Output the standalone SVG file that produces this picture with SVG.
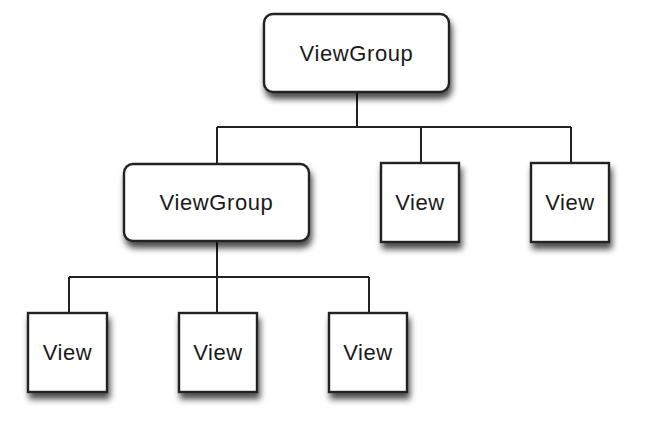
<svg xmlns="http://www.w3.org/2000/svg" width="668" height="428" viewBox="0 0 668 428">
  <defs>
    <filter id="shadow" x="-20%" y="-20%" width="150%" height="160%">
      <feDropShadow dx="2" dy="6" stdDeviation="3.2" flood-color="#000" flood-opacity="0.7"/>
    </filter>
    <style>
      .box { fill: #ffffff; stroke: #222222; stroke-width: 2.4; filter: url(#shadow); }
      .label { font-family: "Liberation Sans", Arial, sans-serif; font-size: 22px; letter-spacing: 0.6px; fill: #1a1a1a; text-anchor: middle; }
      .wire { fill: none; stroke: #222222; stroke-width: 2; }
    </style>
  </defs>
  <rect width="668" height="428" fill="#ffffff"/>

  <!-- tree connectors -->
  <g id="connectors">
    <path class="wire" d="M357 92 V127 M217 127 H571 M217 127 V164 M421 127 V163 M571 127 V163"/>
    <path class="wire" d="M217 241 V277 M69 277 H369 M69 277 V313 M217 277 V313 M369 277 V313"/>
  </g>

  <g id="root-viewgroup">
    <rect class="box" x="264" y="14" width="185" height="78" rx="9"/>
    <text class="label" x="356.5" y="61">ViewGroup</text>
  </g>

  <g id="child-viewgroup">
    <rect class="box" x="124" y="164" width="185" height="77" rx="9"/>
    <text class="label" x="216.5" y="210">ViewGroup</text>
  </g>

  <g id="view-1">
    <rect class="box" x="381" y="163" width="78" height="79"/>
    <text class="label" x="420" y="210">View</text>
  </g>

  <g id="view-2">
    <rect class="box" x="531" y="163" width="78" height="79"/>
    <text class="label" x="570" y="210">View</text>
  </g>

  <g id="view-3">
    <rect class="box" x="28" y="313" width="79" height="79"/>
    <text class="label" x="67.5" y="360">View</text>
  </g>

  <g id="view-4">
    <rect class="box" x="179" y="313" width="78" height="79"/>
    <text class="label" x="218" y="360">View</text>
  </g>

  <g id="view-5">
    <rect class="box" x="329" y="313" width="78" height="79"/>
    <text class="label" x="368" y="360">View</text>
  </g>
</svg>
